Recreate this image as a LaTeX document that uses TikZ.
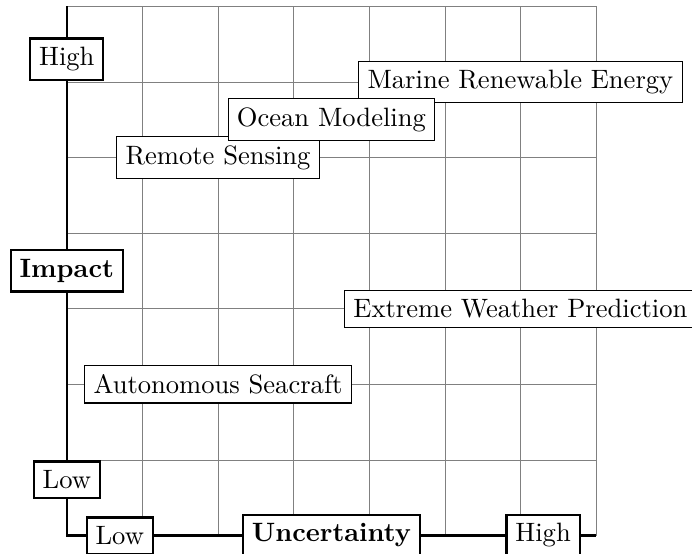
\documentclass[tikz,border=0pt]{standalone}
\usepackage{amsmath,amssymb}
\usepackage{tikz}

\begin{document}
\begin{tikzpicture}[
  axislabel/.style={draw, rectangle, thick, fill=white},
  fieldbox/.style={draw, rectangle, fill=white}
]
\useasboundingbox (-0.884,-0.237) rectangle (8.27,7.084);

% Grid
\draw[gray, very thin] (0,0) grid (7,7);

% Axes
\coordinate (origin) at (0,0);
\coordinate (ytop) at (0,7);
\coordinate (xend) at (7,0);
\draw[thick] (ytop) -- (origin) -- (xend);

% Impact axis
\node[axislabel] (ylow) at (0,0.74) {Low};
\node[axislabel] (impact) at (0,3.5) {\textbf{Impact}};
\node[axislabel] (yhigh) at (0,6.3) {High};

% Uncertainty axis
\node[axislabel] (xlow) at (0.7,0) {Low};
\node[axislabel] (uncert) at (3.5,0) {\textbf{Uncertainty}};
\node[axislabel] (xhigh) at (6.3,0) {High};

% Fields
\node[fieldbox] (marine) at (6,6) {Marine Renewable Energy};
\node[fieldbox] (remote) at (2,5) {Remote Sensing};
\node[fieldbox] (ocean) at (3.5,5.5) {Ocean Modeling};
\node[fieldbox] (weather) at (6,3) {Extreme Weather Prediction};
\node[fieldbox] (seacraft) at (2,2) {Autonomous Seacraft};
\end{tikzpicture}
\end{document}
